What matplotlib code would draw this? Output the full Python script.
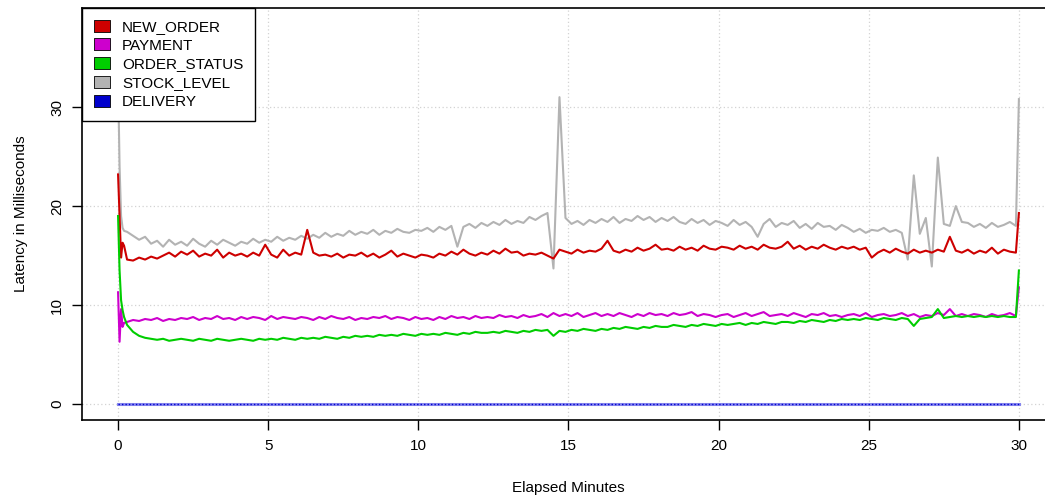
import numpy as np
import matplotlib
matplotlib.use("Agg")
import matplotlib.pyplot as plt
from matplotlib.lines import Line2D

plt.rcParams['font.family'] = ['Liberation Sans', 'DejaVu Sans']

# sample times (minutes): dense start-up samples, then every 0.2 min, last sample at 30
head_t = [0.0, 0.05, 0.1, 0.15, 0.2]
body_t = list(np.round(np.arange(0.3, 29.95, 0.2), 2))
tail_t = [30.0]
minutes = np.array(head_t + body_t + tail_t)

new_order = [23.2, 19.0, 14.8, 16.3, 16.0] + [
    14.6, 14.5, 14.8, 14.6, 14.9, 14.7, 15.0, 15.3, 14.9, 15.4,
    15.1, 15.5, 14.9, 15.2, 15.0, 15.6, 14.8, 15.3, 15.0, 15.2,
    14.9, 15.3, 15.0, 16.1, 15.1, 14.8, 15.6, 15.0, 15.3, 15.1,
    17.6, 15.3, 15.0, 15.1, 14.9, 15.2, 14.8, 15.1, 15.0, 15.3,
    14.9, 15.2, 14.8, 15.1, 15.5, 14.9, 15.2, 15.0, 14.8, 15.1,
    15.0, 14.8, 15.2, 15.0, 15.4, 15.1, 15.6, 15.2, 15.0, 15.3,
    15.1, 15.5, 15.2, 15.7, 15.3, 15.4, 15.0, 15.2, 15.1, 15.3,
    15.0, 14.7, 15.6, 15.4, 15.2, 15.6, 15.3, 15.5, 15.4, 15.7,
    16.5, 15.5, 15.3, 15.6, 15.4, 15.8, 15.5, 15.7, 16.1, 15.6,
    15.7, 15.5, 15.9, 15.6, 15.8, 15.5, 16.0, 15.7, 15.6, 15.9,
    15.8, 15.6, 16.0, 15.7, 15.9, 15.6, 16.1, 15.8, 15.7, 15.9,
    16.4, 15.7, 16.0, 15.6, 15.9, 15.7, 16.1, 15.8, 15.6, 15.9,
    15.7, 15.9, 15.6, 15.8, 14.8, 15.3, 15.6, 15.3, 15.7, 15.4,
    15.2, 15.6, 15.3, 15.5, 15.3, 15.6, 15.4, 16.9, 15.5, 15.3,
    15.6, 15.2, 15.5, 15.3, 15.8, 15.2, 15.6, 15.4, 15.3,
] + [19.3]

payment = [11.3, 6.3, 9.6, 7.8, 8.2] + [
    8.3, 8.5, 8.4, 8.6, 8.5, 8.7, 8.4, 8.6, 8.5, 8.7,
    8.6, 8.8, 8.5, 8.7, 8.6, 8.9, 8.6, 8.7, 8.5, 8.8,
    8.6, 8.8, 8.7, 8.5, 8.9, 8.6, 8.8, 8.7, 8.6, 8.8,
    8.7, 8.5, 8.8, 8.6, 8.9, 8.7, 8.6, 8.8, 8.5, 8.7,
    8.6, 8.8, 8.7, 8.9, 8.6, 8.8, 8.7, 8.5, 8.8, 8.6,
    8.7, 8.5, 8.8, 8.6, 8.9, 8.7, 8.8, 8.6, 8.9, 8.7,
    8.8, 8.7, 9.0, 8.8, 8.9, 8.7, 9.0, 8.8, 8.9, 9.1,
    8.8, 9.2, 8.9, 9.1, 8.9, 9.2, 8.8, 9.0, 9.2, 8.9,
    9.1, 8.9, 9.2, 9.0, 8.8, 9.1, 8.9, 9.2, 9.0, 9.1,
    8.9, 9.2, 9.0, 9.1, 9.3, 8.9, 9.1, 9.0, 8.8, 9.0,
    9.1, 8.8, 9.0, 9.2, 8.9, 9.1, 9.3, 8.9, 9.0, 9.1,
    8.9, 9.2, 9.0, 8.8, 9.1, 9.0, 9.2, 8.9, 9.0, 8.8,
    9.0, 9.1, 8.9, 9.2, 8.8, 9.0, 9.1, 8.9, 9.0, 9.2,
    8.9, 9.1, 8.8, 9.0, 8.9, 9.2, 9.0, 9.6, 8.9, 9.1,
    8.9, 9.1, 9.0, 8.8, 9.1, 8.9, 9.0, 9.2, 8.9,
] + [11.8]

order_status = [19.0, 13.5, 10.5, 9.5, 8.8] + [
    8.0, 7.3, 6.9, 6.7, 6.6, 6.5, 6.6, 6.4, 6.5, 6.6,
    6.5, 6.4, 6.6, 6.5, 6.4, 6.6, 6.5, 6.4, 6.5, 6.6,
    6.5, 6.4, 6.6, 6.5, 6.6, 6.5, 6.7, 6.6, 6.5, 6.7,
    6.6, 6.7, 6.6, 6.8, 6.7, 6.6, 6.8, 6.7, 6.9, 6.8,
    6.9, 6.8, 7.0, 6.9, 7.0, 6.9, 7.1, 7.0, 6.9, 7.1,
    7.0, 7.1, 7.0, 7.2, 7.1, 7.0, 7.2, 7.1, 7.3, 7.2,
    7.2, 7.3, 7.2, 7.4, 7.3, 7.2, 7.4, 7.3, 7.5, 7.4,
    7.5, 6.9, 7.4, 7.3, 7.5, 7.4, 7.6, 7.5, 7.4, 7.6,
    7.5, 7.7, 7.6, 7.8, 7.7, 7.6, 7.8, 7.7, 7.9, 7.8,
    7.8, 8.0, 7.9, 7.8, 8.0, 7.9, 8.1, 8.0, 7.9, 8.1,
    8.0, 8.1, 8.2, 8.0, 8.2, 8.1, 8.3, 8.2, 8.1, 8.3,
    8.3, 8.2, 8.4, 8.3, 8.5, 8.4, 8.3, 8.5, 8.4, 8.6,
    8.5, 8.6, 8.5, 8.7, 8.6, 8.5, 8.7, 8.6, 8.5, 8.7,
    8.6, 7.9, 8.6, 8.7, 8.8, 9.6, 8.7, 8.8, 8.9, 8.8,
    8.9, 8.8, 8.9, 8.8, 8.9, 8.8, 8.9, 8.8, 8.8,
] + [13.5]

stock_level = [33.0, 24.0, 19.0, 17.8, 17.5] + [
    17.4, 17.0, 16.6, 16.9, 16.2, 16.5, 15.9, 16.6, 16.1, 16.4,
    16.0, 16.7, 16.2, 15.9, 16.5, 16.1, 16.6, 16.3, 16.0, 16.4,
    16.2, 16.7, 16.3, 16.6, 16.4, 16.9, 16.5, 16.8, 16.6, 17.0,
    16.7, 17.1, 16.8, 17.3, 16.9, 17.2, 17.0, 17.5, 17.1, 17.4,
    17.2, 17.6, 17.1, 17.5, 17.3, 17.7, 17.4, 17.3, 17.6, 17.5,
    17.8, 17.4, 17.9, 17.6, 18.0, 15.9, 17.9, 18.2, 17.8, 18.3,
    18.0, 18.4, 18.1, 18.6, 18.2, 18.5, 18.3, 18.9, 18.6, 19.0,
    19.3, 13.7, 31.0, 18.8, 18.2, 18.5, 18.1, 18.6, 18.3, 18.7,
    18.4, 18.9, 18.3, 18.7, 18.5, 19.0, 18.6, 18.9, 18.4, 18.8,
    18.5, 18.9, 18.4, 18.2, 18.7, 18.3, 18.6, 18.1, 18.5, 18.3,
    18.0, 18.6, 18.1, 18.4, 17.9, 16.9, 18.2, 18.7, 17.9, 18.3,
    18.1, 18.5, 17.8, 18.2, 17.7, 18.3, 17.9, 18.0, 17.6, 18.1,
    17.8, 17.4, 17.7, 17.3, 17.6, 17.5, 17.8, 17.4, 17.6, 17.3,
    14.6, 23.1, 17.2, 18.8, 13.9, 24.9, 18.2, 18.0, 20.0, 18.4,
    18.3, 17.9, 18.2, 17.8, 18.3, 17.9, 18.1, 18.4, 18.0,
] + [30.8]

delivery = [0.0] * len(minutes)

names = ["NEW_ORDER", "PAYMENT", "ORDER_STATUS", "STOCK_LEVEL", "DELIVERY"]
colors = ["#cd0000", "#cd00cd", "#00cd00", "#b3b3b3", "#0000cd"]

fig = plt.figure(figsize=(10.45, 4.98), dpi=100)
ax = fig.add_axes([0.0785, 0.1566, 0.931, 0.8273])

ax.grid(True, color="#d3d3d3", linestyle=(0, (1, 2)), linewidth=0.9)
ax.set_axisbelow(True)

ax.plot(minutes, stock_level, color=colors[3], lw=1.5)
ax.plot(minutes, new_order, color=colors[0], lw=1.5)
ax.plot(minutes, payment, color=colors[1], lw=1.5)
ax.plot(minutes, order_status, color=colors[2], lw=1.5)
ax.plot(minutes, delivery, color="#8888ee", lw=2.2)
ax.plot(minutes, delivery, color=colors[4], lw=1.0, linestyle=(0, (1, 1.5)))

ax.set_xlim(-1.2, 31.2)
ax.set_ylim(-1.6, 40)
ax.set_xticks([0, 5, 10, 15, 20, 25, 30])
ax.set_yticks([0, 10, 20, 30])
ax.tick_params(axis="both", length=7, width=1, labelsize=11, direction="out")
ax.tick_params(axis="x", pad=7)
ax.tick_params(axis="y", pad=6)
for lab in ax.get_yticklabels():
    lab.set_rotation(90)
    lab.set_va("center")
for sp in ax.spines.values():
    sp.set_linewidth(1.2)

ax.set_xlabel("Elapsed Minutes", fontsize=11, labelpad=20)
ax.set_ylabel("Latency in Milliseconds", fontsize=11, labelpad=16)

box = [(-1.2, -1.0), (1.2, -1.0), (1.2, 1.0), (-1.2, 1.0), (-1.2, -1.0)]
handles = [Line2D([], [], linestyle="none", marker=box, markersize=11,
                  markerfacecolor=c, markeredgecolor="black", markeredgewidth=0.6)
           for c in colors]
leg = ax.legend(handles, names, loc="upper left", bbox_to_anchor=(0, 1),
                borderaxespad=0, fancybox=False, framealpha=1, edgecolor="black",
                fontsize=11, handlelength=1.11, handletextpad=0.73,
                labelspacing=0.31, borderpad=0.78)
leg.get_frame().set_linewidth(1.0)

fig.savefig("out.png", dpi=100)
